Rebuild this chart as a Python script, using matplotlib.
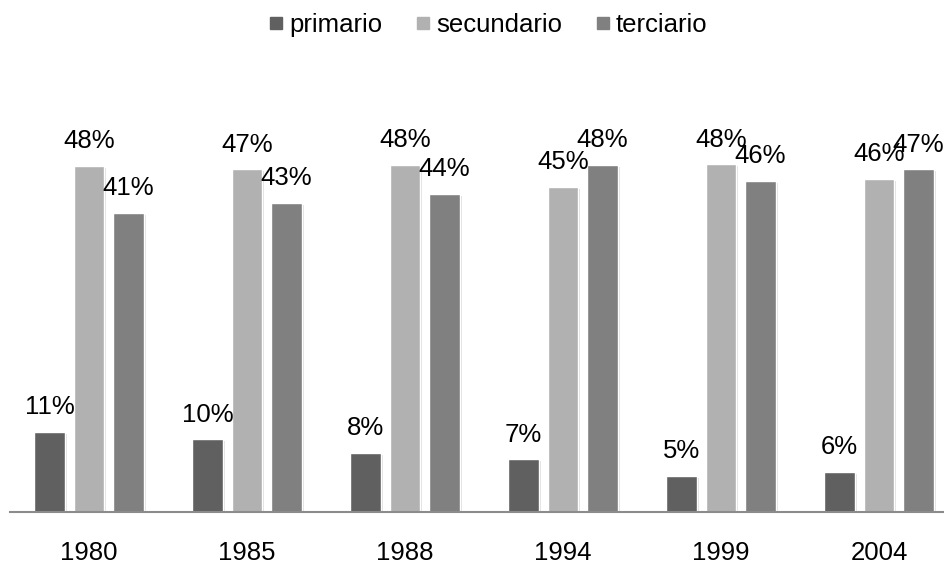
import matplotlib
matplotlib.use("Agg")
import matplotlib.pyplot as plt
import matplotlib.patheffects as pe
from matplotlib.lines import Line2D
import numpy as np

plt.rcParams['font.family'] = ['Liberation Sans', 'DejaVu Sans']

years = ["1980", "1985", "1988", "1994", "1999", "2004"]
primario = [11.0, 10.0, 8.1, 7.2, 4.9, 5.5]
secundario = [47.7, 47.2, 47.8, 44.8, 47.9, 45.9]
terciario = [41.2, 42.6, 43.8, 47.8, 45.6, 47.2]

series = [("primario", primario, "#606060"),
          ("secundario", secundario, "#b1b1b1"),
          ("terciario", terciario, "#808080")]

fig = plt.figure(figsize=(9.44, 5.63), dpi=100)
ax = fig.add_axes([10 / 944, 51.5 / 563, 948 / 944, 435 / 563])

x = np.arange(len(years))
width = 0.19
step = 0.25
shadow = [pe.SimplePatchShadow(offset=(1.5, -1.5), shadow_rgbFace="#c8c8c8", alpha=0.6),
          pe.Normal()]

handles = []
for k, (name, vals, color) in enumerate(series):
    pos = x + (k - 1) * step
    bars = ax.bar(pos, vals, width, color=color, edgecolor="white", linewidth=1,
                  zorder=2)
    for b in bars:
        b.set_path_effects(shadow)
    for px, v in zip(pos, vals):
        ax.annotate(f"{int(v + 0.5)}%", (px, v), xytext=(0, 9),
                    textcoords="offset points", ha="center", va="bottom",
                    fontsize=18.5, color="black", annotation_clip=False)
    handles.append(Line2D([], [], marker="s", linestyle="none", color=color,
                          markersize=8.5, label=name))

ax.set_xlim(-0.5, len(years) - 0.5)
ax.set_ylim(0, 60)
ax.set_xticks(x)
ax.set_xticklabels(years, fontsize=18.5)
ax.tick_params(axis="x", length=0, pad=21)
ax.set_yticks([])
for s in ["top", "right", "left"]:
    ax.spines[s].set_visible(False)
ax.spines["bottom"].set_color("#8c8c8c")
ax.spines["bottom"].set_linewidth(1.5)
ax.set_facecolor("none")

fig.legend(handles=handles, loc="center", bbox_to_anchor=(0.517, 1 - 25 / 563),
           ncol=3, frameon=False, fontsize=18.5, handlelength=0.6,
           handletextpad=0.2, columnspacing=1.3)

fig.savefig("out.png", dpi=100)
